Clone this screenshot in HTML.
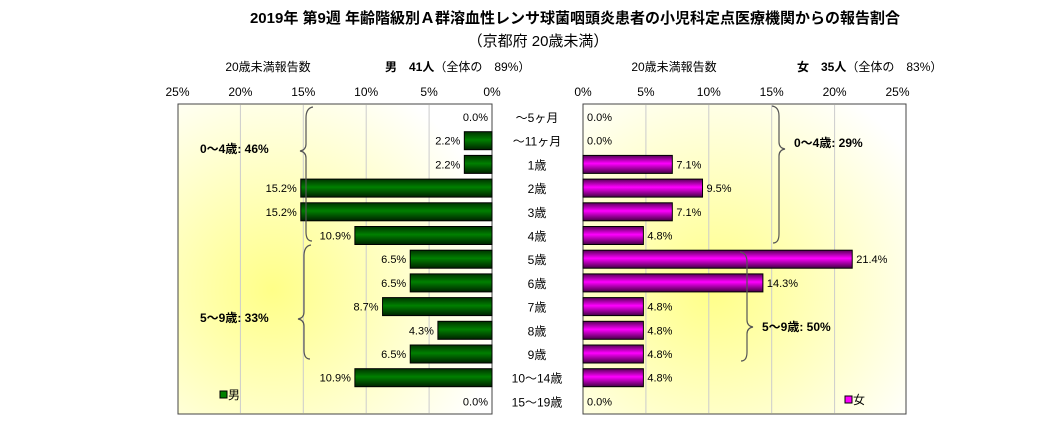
<!DOCTYPE html>
<html><head><meta charset="utf-8">
<style>
body{margin:0;background:#fff;}
svg{display:block;font-family:"Liberation Sans","Noto Sans CJK JP",sans-serif;}
</style></head><body>
<svg id="chart" width="1059" height="443" viewBox="0 0 1059 443" xmlns="http://www.w3.org/2000/svg">
<defs>
<radialGradient id="bgL" cx="0.3" cy="0.6" r="0.75"><stop offset="0" stop-color="#ffff88"/><stop offset="1" stop-color="#ffffff"/></radialGradient>
<radialGradient id="bgR" cx="0.4" cy="0.6" r="0.75"><stop offset="0" stop-color="#ffff88"/><stop offset="1" stop-color="#ffffff"/></radialGradient>
<linearGradient id="gG" x1="0" y1="0" x2="0" y2="1"><stop offset="0" stop-color="#003300"/><stop offset="0.45" stop-color="#008000"/><stop offset="1" stop-color="#002200"/></linearGradient>
<linearGradient id="gM" x1="0" y1="0" x2="0" y2="1"><stop offset="0" stop-color="#550055"/><stop offset="0.45" stop-color="#ff00ff"/><stop offset="1" stop-color="#440044"/></linearGradient>
</defs>
<rect width="1059" height="443" fill="#fff"/>
<text x="575" y="23" font-size="15" font-weight="bold" text-anchor="middle">2019年 第9週 年齢階級別Ａ群溶血性レンサ球菌咽頭炎患者の小児科定点医療機関からの報告割合</text>
<text x="538" y="46" font-size="15" text-anchor="middle">（京都府 20歳未満）</text>
<text x="268" y="71" font-size="12" text-anchor="middle">20歳未満報告数</text>
<text x="385" y="71" font-size="12"><tspan font-weight="bold">男　41人</tspan>（全体の　89%）</text>
<text x="674" y="71" font-size="12" text-anchor="middle">20歳未満報告数</text>
<text x="797" y="71" font-size="12"><tspan font-weight="bold">女　35人</tspan>（全体の　83%）</text>
<rect x="178" y="104" width="314" height="310" fill="url(#bgL)" stroke="#444"/>
<rect x="583" y="104" width="323" height="310" fill="url(#bgR)" stroke="#444"/>
<g id="grid"></g><g id="bars"></g><g id="labels"></g>
<g fill="none" stroke="#555" stroke-width="1.2">
<path d="M313,107 Q306,108 306,118 L306,144 Q306,150 300,151 Q306,152 306,158 L306,232 Q306,241 312,241"/>
<path d="M311,245 Q304,246 304,256 L304,312 Q304,318 298,319 Q304,320 304,326 L304,350 Q304,359 310,359"/>
<path d="M772,106 Q779,107 779,116 L779,142 Q779,148 785,149 Q779,150 779,156 L779,234 Q779,243 773,243"/>
<path d="M740,252 Q747,253 747,262 L747,320 Q747,326 753,327 Q747,328 747,334 L747,352 Q747,361 741,361"/>
</g>
<text x="200" y="153" font-size="12" font-weight="bold">0～4歳: 46%</text>
<text x="200" y="322" font-size="12" font-weight="bold">5～9歳: 33%</text>
<text x="794" y="147" font-size="12" font-weight="bold">0～4歳: 29%</text>
<text x="762" y="331" font-size="12" font-weight="bold">5～9歳: 50%</text>
<rect x="220" y="391" width="7" height="7" fill="#008000" stroke="#000"/>
<text x="228" y="399" font-size="12">男</text>
<rect x="845" y="396" width="7" height="7" fill="#ff00ff" stroke="#000"/>
<text x="853" y="404" font-size="12">女</text>
</svg>
<script>
const categories=["～5ヶ月","～11ヶ月","1歳","2歳","3歳","4歳","5歳","6歳","7歳","8歳","9歳","10～14歳","15～19歳"];
const maleValues=[0.0,2.2,2.2,15.2,15.2,10.9,6.5,6.5,8.7,4.3,6.5,10.9,0.0];
const femaleValues=[0.0,0.0,7.1,9.5,7.1,4.8,21.4,14.3,4.8,4.8,4.8,4.8,0.0];
const tickValues=[0,5,10,15,20,25];
const NS="http://www.w3.org/2000/svg";
const L0=492,R0=583,PX=12.58,ROW0=117,PITCH=23.7,BH=18;
function xL(v){return L0-v*PX;}
function xR(v){return R0+v*PX;}
function yC(i){return ROW0+i*PITCH;}
function mk(tag,attrs,parent){const e=document.createElementNS(NS,tag);for(const k in attrs)e.setAttribute(k,attrs[k]);document.getElementById(parent).appendChild(e);return e;}
tickValues.forEach(t=>{
  if(t>0&&t<25){
    const g1=mk('line',{x1:xL(t),x2:xL(t),y1:105,y2:413,stroke:'#ccc'},'grid');
    
    
    const g2=mk('line',{x1:xR(t),x2:xR(t),y1:105,y2:413,stroke:'#ccc'},'grid');
    
    
  }
  const a=mk('text',{x:xL(t),y:96,'font-size':12,'text-anchor':'middle'},'labels');a.textContent=t+'%';
  
  
  const b=mk('text',{x:xR(t),y:96,'font-size':12,'text-anchor':'middle'},'labels');b.textContent=t+'%';
  
  
});
categories.forEach((c,i)=>{
  const y=yC(i);
  const cl=mk('text',{x:537,y:y+5,'font-size':12,'text-anchor':'middle'},'labels');cl.textContent=c;
  
  
  const m=maleValues[i],f=femaleValues[i];
  if(m>0){
    const r=mk('rect',{x:xL(m),y:y-BH/2,width:m*PX,height:BH,fill:'url(#gG)',stroke:'#000'},'bars');
    
    
  }
  const ml=mk('text',{x:(m>0?xL(m):L0)-4,y:y+4,'font-size':11,'text-anchor':'end'},'labels');ml.textContent=m.toFixed(1)+'%';
  
  
  if(f>0){
    const r=mk('rect',{x:R0,y:y-BH/2,width:f*PX,height:BH,fill:'url(#gM)',stroke:'#000'},'bars');
    
    
  }
  const fl=mk('text',{x:(f>0?xR(f):R0)+4,y:y+4,'font-size':11},'labels');fl.textContent=f.toFixed(1)+'%';
  
  
});
</script>
</body></html>
